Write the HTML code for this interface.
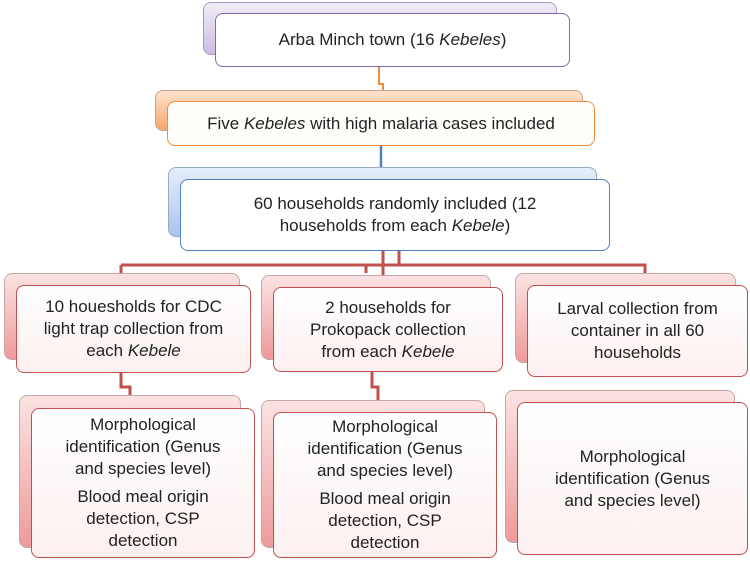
<!DOCTYPE html>
<html><head><meta charset="utf-8"><style>
body{margin:0;width:750px;height:563px;background:#fff;position:relative;overflow:hidden;font-family:"Liberation Sans",sans-serif;color:#222}
.b{position:absolute;border-radius:8px;box-sizing:border-box}
.t{display:flex;flex-direction:column;align-items:center;justify-content:center;text-align:center;font-size:17px;line-height:22px}
.pb{background:linear-gradient(#f1ecf7,#cbbde2);border:1px solid #a99bc0}
.pf{background:#fff;border:1.5px solid #8a68b0}
.ob{background:linear-gradient(#fde3cf,#f6a56a);border:1px solid #c9a38a}
.of{background:#fffdfa;border:1.5px solid #f08c3c}
.bb{background:linear-gradient(#e6eefa,#a9c4ee);border:1px solid #9aaac2}
.bf{background:#fff;border:1.5px solid #4f81c7}
.rb{background:linear-gradient(#fbe3e3,#ee9a9a);border:1px solid #c9a5a5}
.rf{background:linear-gradient(#fff,#fdf0f0);border:1.5px solid #c0504d}
p{margin:0 0 6px}
</style></head><body>
<svg width="750" height="563" style="position:absolute;left:0;top:0">
<path d="M379 67 V84 H383 V101" stroke="#f08c3c" stroke-width="2" fill="none"/>
<path d="M381 146 V179" stroke="#4f81c7" stroke-width="2.5" fill="none"/>
<g stroke="#c0504d" stroke-width="3" fill="none">
<path d="M383 251 V265 M399 251 V265 M121 265 H645 V285 M121 265 V285 M366 265 V273 M383 265 V285"/>
<path d="M121 373 V387 H130 V408"/>
<path d="M372 372 V387 H378 V412"/>
</g>
</svg>
<div class="b pb" style="left:203px;top:2px;width:354px;height:53px"></div>
<div class="b pf t" style="left:215px;top:13px;width:355px;height:54px"><span>Arba Minch town (16 <i>Kebeles</i>)</span></div>
<div class="b ob" style="left:155px;top:90px;width:428px;height:41px"></div>
<div class="b of t" style="left:167px;top:101px;width:428px;height:45px"><span>Five <i>Kebeles</i> with high malaria cases included</span></div>
<div class="b bb" style="left:168px;top:167px;width:429px;height:70px"></div>
<div class="b bf t" style="left:180px;top:179px;width:430px;height:72px"><span>60 households randomly included (12<br>households from each <i>Kebele</i>)</span></div>

<div class="b rb" style="left:4px;top:273px;width:236px;height:87px"></div>
<div class="b rf t" style="left:16px;top:285px;width:235px;height:88px"><span>10 houesholds for CDC<br>light trap collection from<br>each <i>Kebele</i></span></div>
<div class="b rb" style="left:261px;top:275px;width:230px;height:85px"></div>
<div class="b rf t" style="left:273px;top:287px;width:230px;height:85px"><span>2 households for<br>Prokopack collection<br>from each <i>Kebele</i></span></div>
<div class="b rb" style="left:515px;top:273px;width:221px;height:90px"></div>
<div class="b rf t" style="left:527px;top:285px;width:221px;height:92px"><span>Larval collection from<br>container in all 60<br>households</span></div>

<div class="b rb" style="left:19px;top:395px;width:222px;height:153px"></div>
<div class="b rf t" style="left:31px;top:408px;width:224px;height:150px"><p>Morphological<br>identification (Genus<br>and species level)</p><p style="margin:0">Blood meal origin<br>detection, CSP<br>detection</p></div>
<div class="b rb" style="left:261px;top:400px;width:224px;height:148px"></div>
<div class="b rf t" style="left:273px;top:412px;width:224px;height:146px"><p>Morphological<br>identification (Genus<br>and species level)</p><p style="margin:0">Blood meal origin<br>detection, CSP<br>detection</p></div>
<div class="b rb" style="left:505px;top:390px;width:230px;height:153px"></div>
<div class="b rf t" style="left:517px;top:402px;width:231px;height:153px"><span>Morphological<br>identification (Genus<br>and species level)</span></div>
</body></html>
